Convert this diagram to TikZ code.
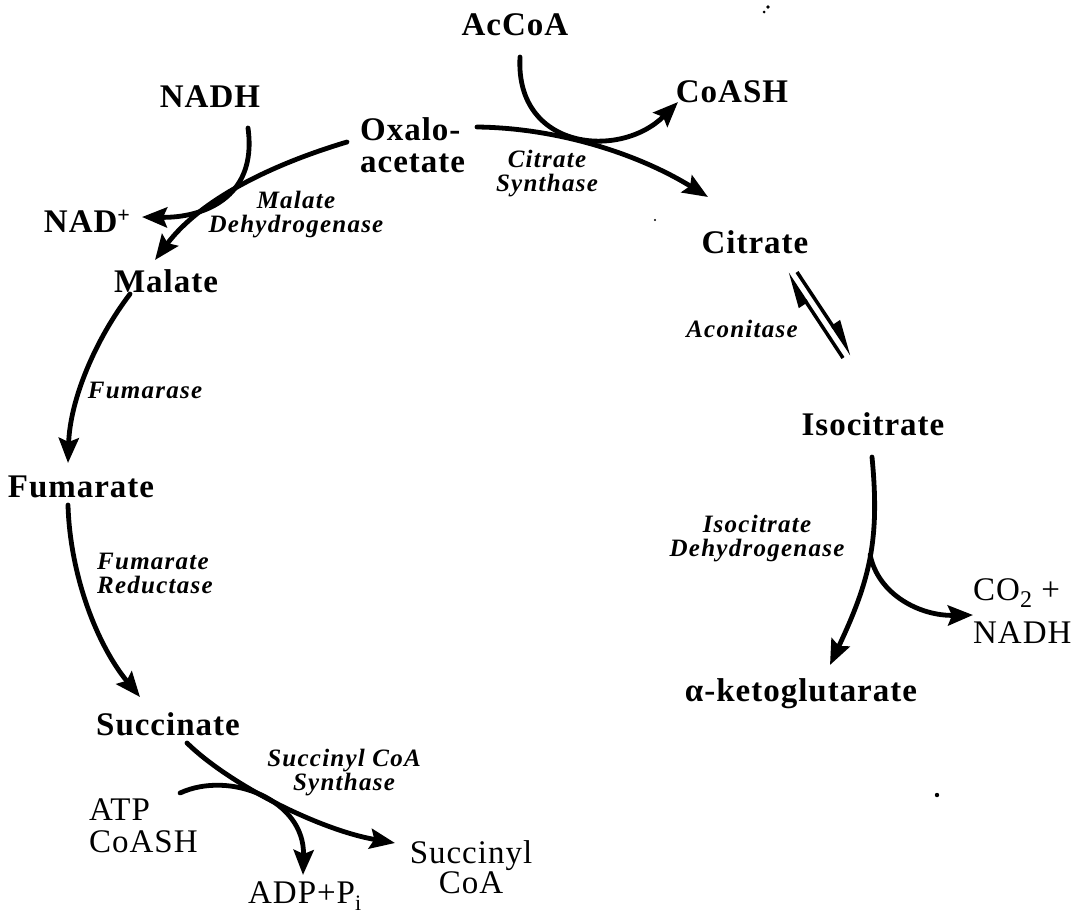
\documentclass[tikz,border=0pt]{standalone}
\usepackage{fontspec}
\setmainfont{Liberation Serif}
\usetikzlibrary{arrows.meta}

\newcommand{\metfont}[1][32]{\fontsize{33}{#1}\selectfont\bfseries\addfontfeature{LetterSpace=3}}
\newcommand{\coffont}[1][32]{\fontsize{33}{#1}\selectfont\addfontfeature{LetterSpace=3}}
\newcommand{\enzfont}[1][24]{\fontsize{25}{#1}\selectfont\bfseries\itshape\addfontfeature{LetterSpace=5}}

\begin{document}
\begin{tikzpicture}[x=1pt,y=-1pt,
  met/.style={font=\metfont, inner sep=0pt},
  cof/.style={font=\coffont, inner sep=0pt},
  enz/.style={font=\enzfont, inner sep=0pt},
  rx/.style={line width=4.8pt, line cap=round, -{Stealth[length=25pt,width=20pt,inset=4pt]}},
  harp/.style={line width=3.5pt, -{Triangle[harpoon,length=30pt,width=18pt]}},
  speck/.style={fill=black}]
\useasboundingbox (0,0) rectangle (1090,914);

% metabolites (multi-line nodes are anchored on their last baseline)
\node[met, anchor=base] (acoa) at (515,35) {AcCoA};
\node[met, anchor=base] (nadh1) at (210,107) {NADH};
\node[met, anchor=base west, align=left] (oxa) at (360,172) {Oxalo-\\acetate};
\node[met, anchor=base] (coash1) at (732,102) {CoASH};
\node[met, anchor=base] (nadp) at (87,232) {NAD\raisebox{10pt}{\fontsize{22}{22}\selectfont +}};
\node[met, anchor=base] (cit) at (755,253) {Citrate};
\node[met, anchor=base] (mal) at (166,292) {Malate};
\node[met, anchor=base] (iso) at (873,435) {Isocitrate};
\node[met, anchor=base] (fum) at (81,497) {Fumarate};
\node[cof, anchor=base west, align=left, font={\coffont[43]}] (co2) at (973,643)
  {CO\raisebox{-7pt}{\fontsize{24}{24}\selectfont 2} +\\NADH};
\node[met, anchor=base] (akg) at (801,701) {α-ketoglutarate};
\node[met, anchor=base] (suc) at (168,735) {Succinate};
\node[cof, anchor=base west, align=left] (atp) at (89,852) {ATP\\CoASH};
\node[cof, anchor=base west] (adp) at (248,903) {ADP+P\raisebox{-7pt}{\fontsize{22}{22}\selectfont i}};
\node[cof, anchor=base, align=center, font={\coffont[28]}] (sucoa) at (471,893) {Succinyl\\CoA};

% enzymes
\node[enz, anchor=base, align=center] (csyn) at (547,191) {Citrate\\Synthase};
\node[enz, anchor=base, align=center] (mdh) at (296,232) {Malate\\Dehydrogenase};
\node[enz, anchor=base] (acon) at (742,337) {Aconitase};
\node[enz, anchor=base] (fumase) at (145,398) {Fumarase};
\node[enz, anchor=base west, align=left] (fred) at (97,593) {Fumarate\\Reductase};
\node[enz, anchor=base, align=center] (idh) at (757,556) {Isocitrate\\Dehydrogenase};
\node[enz, anchor=base, align=center] (scs) at (344,790) {Succinyl CoA\\Synthase};

% reactions
\draw[rx] ([shift={(117,-45)}]oxa.base west) .. controls +(83,1) and +(-68,-42) .. ([shift={(-47,-56)}]cit.base);
\draw[rx] ([shift={(5,22)}]acoa.base) .. controls +(-5,93) and +(-58,58) .. ([shift={(-54,0)}]coash1.base);
\draw[rx] ([shift={(-13,-30)}]oxa.base west) .. controls +(-77,23) and +(45,-60) .. ([shift={(-11,-32)}]mal.base);
\draw[rx] ([shift={(38,21)}]nadh1.base) .. controls +(10,72) and +(58,1) .. ([shift={(55,-15)}]nadp.base);
\draw[rx] ([shift={(-36,2)}]mal.base) .. controls +(-35,46) and +(2,-63) .. ([shift={(-13,-34)}]fum.base);
\draw[rx] ([shift={(-13,8)}]fum.base) .. controls +(2,70) and +(-43,-52) .. ([shift={(-28,-38)}]suc.base);
\draw[rx] ([shift={(19,8)}]suc.base) .. controls +(43,42) and +(-75,-13) .. ([shift={(-76,-50)}]sucoa.base);
\draw[rx] ([shift={(91,-59)}]atp.base west) .. controls +(50,-23) and +(2,-75) .. ([shift={(55,-28)}]adp.base west);
\draw[rx] ([shift={(-1,22)}]iso.base) .. controls +(8,83) and +(40,-85) .. ([shift={(29,-36)}]akg.base)
  coordinate[pos=0.47] (idhj);
\draw[rx] (idhj) .. controls +(8,40) and +(-53,1) .. ([shift={(0,-28)}]co2.base west);

% aconitase equilibrium
\draw[harp] ([shift={(-30,-77)}]iso.base) -- ([shift={(32,20)}]cit.base);
\draw[harp] ([shift={(42,19)}]cit.base) -- ([shift={(-21,-80)}]iso.base);

% specks
\fill[speck] (768,7) circle (1.8);
\fill[speck] (764,12) circle (1.5);
\fill[speck] (655,220) circle (1.2);
\fill[speck] (937,795) circle (2.2);
\end{tikzpicture}
\end{document}
